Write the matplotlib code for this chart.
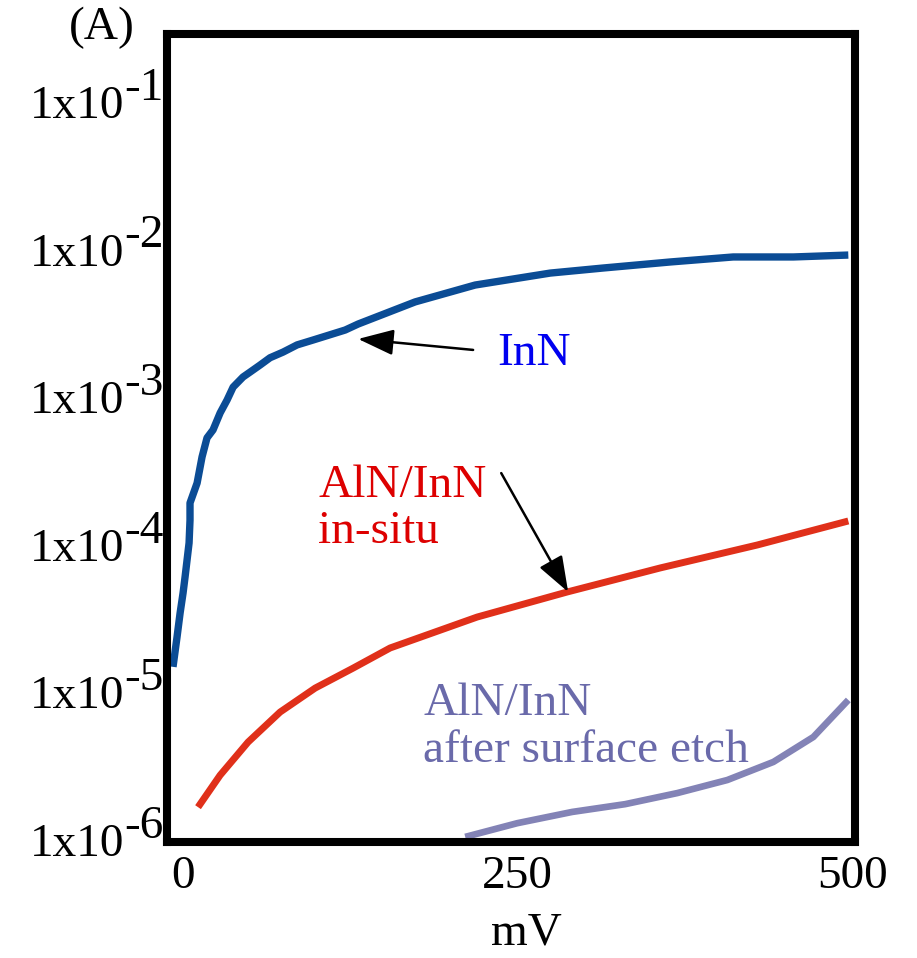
import numpy as np
import matplotlib
matplotlib.use('Agg')
from matplotlib import pyplot as plt

# I-V data (bias in mV, current in A)
innV = [-7.5, -4.5, -2.2, 0.0, 1.5, 3.0, 4.5, 5.2, 5.2, 10.5, 14.2, 17.9, 22.4, 27.7, 32.9,
        37.4, 44.8, 50.1, 57.5, 65.0, 74.7, 85.2, 97.2, 121.1, 130.8, 173.4, 218.2, 274.3,
        313.9, 364.0, 411.0, 456.0, 497.0]
innI = [1.49e-5, 2.37e-5, 3.45e-5, 4.71e-5, 6.05e-5, 7.89e-5, 1.03e-4, 1.47e-4, 1.92e-4,
        2.62e-4, 3.94e-4, 5.30e-4, 6.00e-4, 7.82e-4, 9.57e-4, 1.17e-3, 1.37e-3, 1.48e-3,
        1.65e-3, 1.85e-3, 2.02e-3, 2.26e-3, 2.44e-3, 2.85e-3, 3.13e-3, 4.42e-3, 5.75e-3,
        6.93e-3, 7.50e-3, 8.24e-3, 8.91e-3, 8.91e-3, 9.18e-3]

insituV = [11.2, 27.7, 48.6, 72.5, 98.7, 127.0, 154.7, 219.7, 287.0, 356.5, 429.0, 497.0]
insituI = [1.67e-6, 2.75e-6, 4.61e-6, 7.36e-6, 1.07e-5, 1.46e-5, 2.00e-5, 3.24e-5, 4.79e-5,
           6.97e-5, 9.97e-5, 1.45e-4]

etchV = [210.8, 249.6, 290.7, 330.3, 369.2, 406.6, 441.0, 470.9, 497.0]
etchI = [1.05e-6, 1.30e-6, 1.55e-6, 1.75e-6, 2.08e-6, 2.55e-6, 3.38e-6, 4.99e-6, 8.89e-6]

xTicks = [0, 250, 500]
yExponents = [-1, -2, -3, -4, -5, -6]

SERIF = 'Liberation Serif'
FS = 34

fig = plt.figure(figsize=(9.17, 9.58), dpi=100)
ax = fig.add_axes([0.1821, 0.1211, 0.7503, 0.8429])

ax.plot(innV, innI, color='#0b4c95', linewidth=5.3, solid_capstyle='butt')
ax.plot(insituV, insituI, color='#e0301a', linewidth=5.0, solid_capstyle='butt')
ax.plot(etchV, etchI, color='#8383b6', linewidth=4.8, solid_capstyle='butt')

ax.set_yscale('log')
ax.set_xlim(-12, 502)
ax.set_ylim(9.7e-7, 0.2864)

for sp in ax.spines.values():
    sp.set_linewidth(5.8)
    sp.set_color('black')

ax.set_xticks(xTicks)
ax.set_xticklabels([str(v) for v in xTicks], fontsize=FS, family=SERIF)
ax.tick_params(axis='x', length=0, pad=10)
ax.set_yticks([10.0 ** e for e in yExponents])
ax.set_yticklabels([])
ax.yaxis.set_minor_locator(matplotlib.ticker.NullLocator())
ax.tick_params(axis='y', length=0)

# y labels written as "1x10" followed by a raised exponent of the same size
for e in yExponents:
    ax.annotate('1x10', xy=(0, 10.0 ** e), xycoords=('axes fraction', 'data'),
                xytext=(-31, -11.5), textcoords='offset points', ha='right', va='baseline',
                fontsize=FS, family=SERIF, annotation_clip=False, zorder=1)
    ax.annotate('-%d' % -e, xy=(0, 10.0 ** e), xycoords=('axes fraction', 'data'),
                xytext=(-31, 1.5), textcoords='offset points', ha='left', va='baseline',
                fontsize=FS, family=SERIF, annotation_clip=False, zorder=1)

ax.set_xlabel('mV', fontsize=FS, family=SERIF, va='center')
ax.xaxis.set_label_coords(0.523, -0.113)

fig.text(102 / 917, 1 - 28 / 958, '(A)', fontsize=FS, family=SERIF, ha='center', va='center')

# curve labels and pointers
ax.text(234.7, 1.65e-3, 'InN', color='#0000f0', fontsize=FS, family=SERIF, va='baseline')
ax.text(100.9, 2.11e-4, 'AlN/InN', color='#dd0000', fontsize=FS, family=SERIF, va='baseline')
ax.text(100.9, 1.03e-4, 'in-situ', color='#dd0000', fontsize=FS, family=SERIF, va='baseline')
ax.text(179.4, 7.03e-6, 'AlN/InN', color='#6a6aaa', fontsize=FS, family=SERIF, va='baseline')
ax.text(179.4, 3.38e-6, 'after surface etch', color='#6a6aaa', fontsize=FS, family=SERIF,
        va='baseline')

arrowProps = dict(arrowstyle='-|>,head_length=1.1,head_width=0.4', color='black', lw=1.8,
                  shrinkA=0, shrinkB=0, mutation_scale=20)
ax.annotate('', xy=(130.8, 2.48e-3), xytext=(216.7, 2.09e-3), arrowprops=arrowProps)
ax.annotate('', xy=(287.7, 4.79e-5), xytext=(237.7, 3.06e-4), arrowprops=arrowProps)

fig.savefig('out.png', dpi=100)
